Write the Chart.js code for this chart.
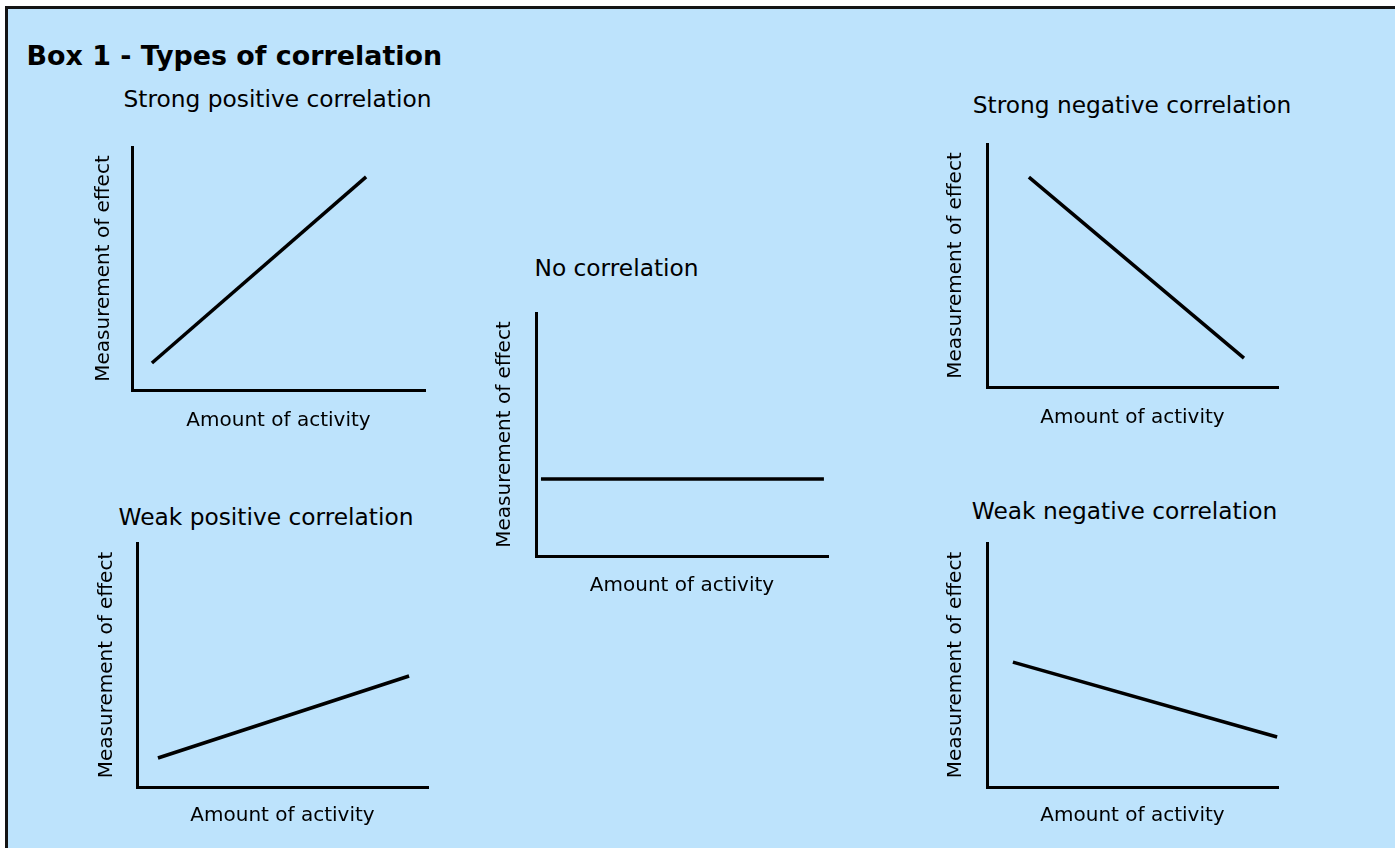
<!DOCTYPE html>
<html>
<head>
<meta charset="utf-8">
<script src="https://cdn.jsdelivr.net/npm/chart.js@4.4.1/dist/chart.umd.min.js"></script>
<style>
  html, body { margin: 0; padding: 0; background: #ffffff; width: 1395px; height: 848px; overflow: hidden; }
  #box { position: absolute; left: 5px; top: 6px; width: 1400px; height: 850px; background: #bde3fc;
         border-top: 3px solid #141414; border-left: 3px solid #141414; }
  .txt { position: absolute; font-family: "DejaVu Sans", sans-serif; color: #000; line-height: 0; white-space: nowrap; }
  .ptitle { font-size: 23.3px; width: 1000px; text-align: center; }
  canvas { position: absolute; }
</style>
</head>
<body>
<div id="box"></div>
<div class="txt" id="mainTitle" style="left:26.5px; top:56px; font-size:26.9px; font-weight:bold;"></div>
<script>
// ---- Data ----
const mainTitle = 'Box 1 - Types of correlation';
const panelTitles = ['Strong positive correlation', 'Weak positive correlation', 'No correlation',
                     'Strong negative correlation', 'Weak negative correlation'];
const xAxisLabel = 'Amount of activity';
const yAxisLabel = 'Measurement of effect';

const strongPositiveX = [6.8, 79.9];
const strongPositiveY = [11.1, 87.7];
const weakPositiveX = [7.2, 93.5];
const weakPositiveY = [11.9, 45.5];
const noCorrelationX = [1.7, 98.6];
const noCorrelationY = [31.7, 31.7];
const strongNegativeX = [14.4, 88.3];
const strongNegativeY = [86.4, 11.9];
const weakNegativeX = [8.9, 99.7];
const weakNegativeY = [51.2, 20.5];

const seriesX = [strongPositiveX, weakPositiveX, noCorrelationX, strongNegativeX, weakNegativeX];
const seriesY = [strongPositiveY, weakPositiveY, noCorrelationY, strongNegativeY, weakNegativeY];

// ---- Layout (positions / sizes) ----
const panels = [
  { L: 90,  T: 145, W: 339, H: 290, yPadBottom: 16, xPadTop: 19, tCenter: 277.5, tTop: 99 },
  { L: 93,  T: 541, W: 339, H: 289, yPadBottom: 18, xPadTop: 17, tCenter: 266,   tTop: 517 },
  { L: 491, T: 311, W: 341, H: 289, yPadBottom: 19, xPadTop: 18, tCenter: 616.5, tTop: 268 },
  { L: 942, T: 142, W: 340, H: 290, yPadBottom: 19, xPadTop: 19, tCenter: 1132,  tTop: 105 },
  { L: 942, T: 541, W: 340, H: 289, yPadBottom: 19, xPadTop: 17, tCenter: 1124.5,tTop: 511 }
];

document.getElementById('mainTitle').textContent = mainTitle;

const axisFont = { family: 'DejaVu Sans', size: 20, lineHeight: 1.2 };

panels.forEach((p, i) => {
  const t = document.createElement('div');
  t.className = 'txt ptitle';
  t.style.left = (p.tCenter - 500) + 'px';
  t.style.top = p.tTop + 'px';
  t.textContent = panelTitles[i];
  document.body.appendChild(t);

  const c = document.createElement('canvas');
  c.width = p.W; c.height = p.H;
  c.style.left = p.L + 'px'; c.style.top = p.T + 'px';
  c.style.width = p.W + 'px'; c.style.height = p.H + 'px';
  document.body.appendChild(c);

  const pts = seriesX[i].map((x, k) => ({ x: x, y: seriesY[i][k] }));

  new Chart(c.getContext('2d'), {
    type: 'line',
    data: {
      datasets: [{
        data: pts,
        borderColor: '#000000',
        borderWidth: 3.5,
        pointRadius: 0,
        pointHoverRadius: 0,
        fill: false,
        tension: 0,
        clip: false
      }]
    },
    options: {
      responsive: false,
      animation: false,
      devicePixelRatio: 1,
      events: [],
      layout: { padding: { left: 0, top: 2, right: 4, bottom: 0 } },
      plugins: { legend: { display: false }, title: { display: false }, tooltip: { enabled: false } },
      scales: {
        x: {
          type: 'linear', min: 0, max: 100,
          ticks: { display: false },
          grid: { display: false, drawTicks: false },
          border: { display: true, color: '#000000', width: 3 },
          title: { display: true, text: xAxisLabel, color: '#000000', font: axisFont,
                   padding: { top: p.xPadTop, bottom: 2 } }
        },
        y: {
          type: 'linear', min: 0, max: 100,
          ticks: { display: false },
          grid: { display: false, drawTicks: false },
          border: { display: true, color: '#000000', width: 3 },
          title: { display: true, text: yAxisLabel, color: '#000000', font: axisFont,
                   padding: { top: 2, bottom: p.yPadBottom } }
        }
      }
    }
  });
});
</script>
</body>
</html>
